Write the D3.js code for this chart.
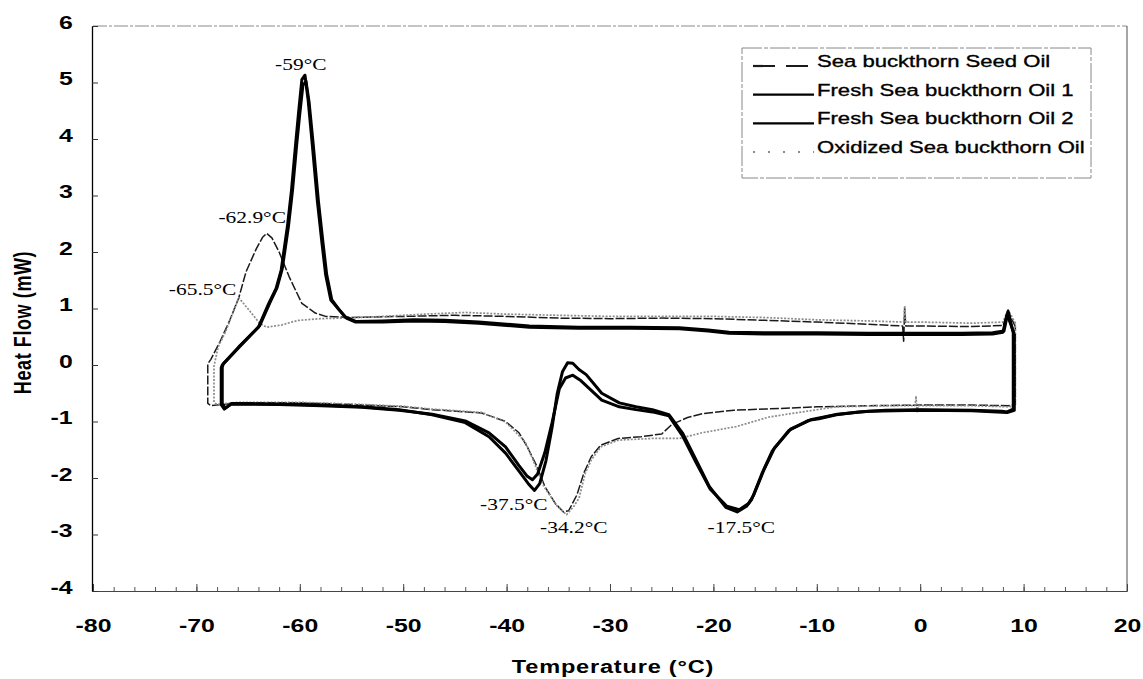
<!DOCTYPE html>
<html>
<head>
<meta charset="utf-8">
<script src="https://cdn.jsdelivr.net/npm/d3@7"></script>
<style>
  html, body { margin: 0; padding: 0; background: #fff; }
  svg { display: block; }
</style>
</head>
<body>
<svg id="chart" width="1143" height="679"></svg>
<script>
// ---------------- DATA ----------------
const xTickValues = [-80, -70, -60, -50, -40, -30, -20, -10, 0, 10, 20];
const yTickValues = [-4, -3, -2, -1, 0, 1, 2, 3, 4, 5, 6];
const xTitle = "Temperature (\u00B0C)";
const yTitle = "Heat Flow (mW)";

const seriesNames = [
  "Sea buckthorn Seed Oil",
  "Fresh Sea buckthorn Oil 1",
  "Fresh Sea buckthorn Oil 2",
  "Oxidized Sea buckthorn Oil"
];

// [temperature °C, heat flow mW] — cooling run (right to left) then heating run (left to right)
const seedOil = [
  [9.2, 0.68], [8.5, 0.95], [8.0, 0.70], [5, 0.68], [0, 0.69], [-1.4, 0.69], [-1.5, 1.0], [-1.6, 0.42], [-1.7, 0.69],
  [-5, 0.72], [-10, 0.76], [-15, 0.79], [-20, 0.82], [-25, 0.83], [-30, 0.82], [-35, 0.83], [-40, 0.86],
  [-45, 0.88], [-50, 0.86], [-55, 0.84], [-57.5, 0.86], [-58.5, 0.92], [-59.8, 1.09], [-61.0, 1.55],
  [-62.0, 2.0], [-62.7, 2.25], [-63.2, 2.33], [-63.6, 2.26], [-64.2, 2.06], [-65.2, 1.65], [-65.9, 1.19],
  [-66.8, 0.78], [-67.7, 0.42], [-68.6, 0.10], [-68.9, 0.02], [-68.9, -0.68], [-68.6, -0.72],
  [-66, -0.67], [-60, -0.67], [-55, -0.70], [-50, -0.74], [-47.2, -0.79], [-42.4, -0.85], [-40.1, -1.0],
  [-38.8, -1.2], [-38.0, -1.45], [-37.1, -1.78], [-36.3, -2.15], [-35.3, -2.45], [-34.5, -2.6], [-34.0, -2.58],
  [-33.2, -2.3], [-32.5, -1.9], [-31.8, -1.62], [-30.9, -1.42], [-29.2, -1.3], [-27, -1.27], [-25, -1.22],
  [-24, -1.05], [-22.5, -0.93], [-21, -0.86], [-18, -0.80], [-15, -0.78], [-10, -0.74], [-5, -0.72],
  [0, -0.71], [5, -0.71], [8.5, -0.72], [9.2, -0.70], [9.2, 0.68]
];

const freshOil1 = [
  [9.0, 0.57], [8.5, 0.95], [8.1, 0.60], [7, 0.57], [4, 0.56], [0, 0.56], [-5, 0.56], [-10, 0.57], [-15, 0.57],
  [-18.5, 0.58], [-20.5, 0.62], [-23.3, 0.66], [-28, 0.67], [-33, 0.67], [-37.8, 0.69], [-42.7, 0.76],
  [-46, 0.79], [-49, 0.80], [-52, 0.78], [-54.6, 0.77], [-55.6, 0.85], [-56.3, 1.0], [-57.0, 1.15],
  [-57.5, 1.6], [-57.85, 2.15], [-58.3, 2.9], [-58.8, 3.92], [-59.2, 4.7], [-59.5, 5.13], [-59.8, 5.05],
  [-60.1, 4.5], [-60.4, 3.92], [-60.8, 3.1], [-61.2, 2.45], [-61.8, 1.68], [-62.3, 1.35], [-63.0, 1.09],
  [-64.0, 0.67], [-65.9, 0.32], [-67.5, 0.0], [-67.6, -0.05], [-67.6, -0.70], [-67.3, -0.78],
  [-66.6, -0.68], [-62, -0.69], [-57.9, -0.71], [-54, -0.74], [-50.4, -0.79], [-47.2, -0.88], [-44.0, -1.02],
  [-41.7, -1.27], [-40.1, -1.56], [-38.8, -1.88], [-37.9, -2.1], [-37.3, -2.22], [-36.8, -2.1], [-36.2, -1.7],
  [-35.6, -1.1], [-35.1, -0.5], [-34.6, -0.12], [-34.1, 0.04], [-33.6, 0.03], [-33.0, -0.08], [-32.3, -0.17],
  [-30.8, -0.5], [-29.1, -0.67], [-27.5, -0.74], [-25.9, -0.79], [-24.3, -0.88], [-23.0, -1.2], [-21.7, -1.67],
  [-20.4, -2.15], [-18.8, -2.52], [-17.7, -2.6], [-16.8, -2.5], [-16.3, -2.38], [-15.3, -1.92], [-14.3, -1.52],
  [-12.7, -1.16], [-10.8, -0.98], [-9.8, -0.95], [-8.1, -0.88], [-6, -0.83], [-3.3, -0.80], [0, -0.79],
  [5, -0.80], [7.9, -0.82], [8.4, -0.83], [9.0, -0.78], [9.0, 0.57]
];

const freshOil2 = [
  [9.1, 0.55], [8.4, 0.9], [8.0, 0.58], [7, 0.55], [4, 0.54], [0, 0.54], [-5, 0.54], [-10, 0.55], [-15, 0.55],
  [-18.5, 0.56], [-20.5, 0.60], [-23.3, 0.64], [-28, 0.65], [-33, 0.65], [-37.8, 0.67], [-42.7, 0.74],
  [-46, 0.77], [-49, 0.78], [-52, 0.76], [-54.6, 0.76], [-55.5, 0.83], [-56.2, 0.98], [-56.9, 1.15],
  [-57.4, 1.6], [-57.75, 2.15], [-58.2, 2.9], [-58.7, 3.9], [-59.1, 4.65], [-59.4, 5.02], [-59.7, 4.95],
  [-60.0, 4.45], [-60.3, 3.9], [-60.7, 3.1], [-61.1, 2.45], [-61.7, 1.7], [-62.2, 1.37], [-62.9, 1.1],
  [-63.9, 0.69], [-65.8, 0.33], [-67.4, 0.02], [-67.5, -0.04], [-67.5, -0.69], [-67.2, -0.76],
  [-66.6, -0.69], [-62, -0.70], [-57.9, -0.72], [-54, -0.75], [-50.4, -0.80], [-47.2, -0.87], [-44.0, -0.99],
  [-41.7, -1.2], [-40.1, -1.45], [-38.8, -1.78], [-38.0, -1.97], [-37.5, -2.03], [-37.0, -1.93], [-36.3, -1.55],
  [-35.6, -1.02], [-34.9, -0.42], [-34.3, -0.23], [-33.6, -0.18], [-32.8, -0.28], [-30.8, -0.62], [-29.1, -0.74],
  [-27.5, -0.79], [-25.9, -0.83], [-24.3, -0.90], [-23.0, -1.25], [-21.7, -1.72], [-20.3, -2.2], [-18.7, -2.5],
  [-17.5, -2.56], [-16.6, -2.45], [-16.1, -2.3], [-15.1, -1.85], [-14.1, -1.47], [-12.5, -1.13], [-10.6, -0.97],
  [-8, -0.87], [-5, -0.82], [0, -0.80], [5, -0.81], [8.4, -0.84], [9.1, -0.80], [9.1, 0.55]
];

const oxidizedOil = [
  [9.2, 0.74], [8.5, 0.98], [8.0, 0.76], [5, 0.74], [0, 0.76], [-1.4, 0.76], [-1.5, 1.05], [-1.6, 0.76],
  [-5, 0.78], [-10, 0.80], [-15, 0.84], [-20, 0.86], [-25, 0.86], [-30, 0.86], [-35, 0.88], [-40, 0.90],
  [-44, 0.93], [-48, 0.90], [-52, 0.86], [-56, 0.83], [-58, 0.82], [-60.1, 0.79], [-60.8, 0.76], [-61.7, 0.71],
  [-63.2, 0.67], [-63.9, 0.74], [-64.9, 0.97], [-65.9, 1.19], [-66.3, 1.0], [-67.2, 0.58], [-67.9, 0.32],
  [-68.2, 0.06], [-68.3, -0.02], [-68.3, -0.66], [-68.0, -0.70],
  [-66, -0.66], [-60, -0.66], [-55, -0.69], [-50, -0.73], [-47.2, -0.78], [-42.4, -0.84], [-40.1, -1.01],
  [-38.2, -1.36], [-37.4, -1.7], [-36.4, -2.15], [-35.1, -2.5], [-34.2, -2.65], [-33.5, -2.5], [-33.0, -2.36],
  [-32.4, -1.92], [-31.8, -1.68], [-30.9, -1.45], [-29.2, -1.33], [-25.9, -1.30], [-23.3, -1.30], [-21.1, -1.2],
  [-17.8, -1.09], [-14.6, -0.92], [-11.4, -0.83], [-8.1, -0.74], [-3, -0.72], [-0.5, -0.72], [-0.4, -0.55],
  [-0.3, -0.85], [-0.2, -0.72], [5, -0.72], [8.5, -0.74], [9.2, -0.72], [9.2, 0.74]
];

// peak annotations: text, temperature of label centre, heat flow at label baseline
const annText = ["-59\u00B0C", "-62.9\u00B0C", "-65.5\u00B0C", "-37.5\u00B0C", "-34.2\u00B0C", "-17.5\u00B0C"];
const annT    = [-59.9, -64.6, -69.4, -39.3, -33.5, -17.3];
const annHF   = [5.22, 2.51, 1.24, -2.57, -2.97, -2.97];

// ---------------- CHART ----------------
const svg = d3.select("#chart");
const W = 1143, H = 679;
const plotLeft = 93, plotRight = 1127, plotTop = 26, plotBottom = 591;

const x = d3.scaleLinear().domain([-80, 20]).range([plotLeft, plotRight]);
const y = d3.scaleLinear().domain([-4, 6]).range([plotBottom, plotTop]);

const sansFont = "'Liberation Sans', Arial, Helvetica, sans-serif";
const serifFont = "'Liberation Serif', 'Times New Roman', serif";

svg.append("rect").attr("width", W).attr("height", H).attr("fill", "#fff");

// frame: top and right borders (faint)
svg.append("line").attr("x1", plotLeft).attr("x2", plotRight).attr("y1", plotTop).attr("y2", plotTop)
  .attr("stroke", "#8a8a8a").attr("stroke-width", 1).attr("stroke-dasharray", "14,2,3,2");
svg.append("line").attr("x1", plotRight).attr("x2", plotRight).attr("y1", plotTop).attr("y2", plotBottom)
  .attr("stroke", "#6a6a6a").attr("stroke-width", 1.2);

// x axis minor ticks
svg.append("g").attr("transform", `translate(0,${plotBottom})`)
  .call(d3.axisBottom(x).tickValues(d3.range(-80, 21, 2)).tickSize(-4).tickSizeOuter(0).tickFormat(""))
  .call(g => g.select(".domain").attr("stroke", "#444"))
  .call(g => g.selectAll(".tick line").attr("stroke", "#555"));

// x axis major ticks + labels
const xAxisG = svg.append("g").attr("transform", `translate(0,${plotBottom})`)
  .call(d3.axisBottom(x).tickValues(xTickValues).tickSize(-7).tickSizeOuter(0)
    .tickPadding(28).tickFormat(d => String(d)));
xAxisG.select(".domain").attr("stroke", "#444");
xAxisG.selectAll(".tick line").attr("stroke", "#444");
xAxisG.selectAll(".tick text")
  .attr("font-family", sansFont).attr("font-size", 18).attr("font-weight", "bold")
  .attr("fill", "#000").attr("transform", "scale(1.38,1)");

// y axis
const yAxisG = svg.append("g").attr("transform", `translate(${plotLeft - 1},0)`)
  .call(d3.axisLeft(y).tickValues(yTickValues).tickSize(-6).tickSizeOuter(0)
    .tickFormat(d => String(d)));
yAxisG.select(".domain").attr("stroke", "#000").attr("stroke-width", 1.3);
yAxisG.selectAll(".tick line").attr("stroke", "#333");
yAxisG.selectAll(".tick text")
  .attr("font-family", sansFont).attr("font-size", 18).attr("font-weight", "bold")
  .attr("fill", "#000").attr("x", -14).attr("y", -3.5)
  .attr("transform", "scale(1.38,1)");

// axis titles
svg.append("text")
  .attr("transform", `translate(${(plotLeft + plotRight) / 2 + 3},673) scale(1.31,1)`)
  .attr("text-anchor", "middle")
  .attr("font-family", sansFont).attr("font-size", 18).attr("font-weight", "bold")
  .attr("letter-spacing", 0.6)
  .text(xTitle);

svg.append("text")
  .attr("transform", `translate(31,${(plotTop + plotBottom) / 2 + 14}) scale(1.35,1) rotate(-90)`)
  .attr("text-anchor", "middle")
  .attr("font-family", sansFont).attr("font-size", 18).attr("font-weight", "bold")
  .attr("letter-spacing", 0.6)
  .text(yTitle);

// curves
const line = d3.line().x(d => x(d[0])).y(d => y(d[1])).curve(d3.curveLinear);

const styles = [
  { data: seedOil,     stroke: "#1a1a1a", width: 1.5, dash: "9,2" },
  { data: oxidizedOil, stroke: "#8c8c8c", width: 1.7, dash: "2,1.5" },
  { data: freshOil2,   stroke: "#000",    width: 3, dash: null },
  { data: freshOil1,   stroke: "#000",    width: 3, dash: null }
];
const plot = svg.append("g");
styles.forEach(s => {
  plot.append("path").datum(s.data)
    .attr("d", line)
    .attr("fill", "none")
    .attr("stroke", s.stroke)
    .attr("stroke-width", s.width)
    .attr("stroke-linejoin", "round")
    .attr("stroke-dasharray", s.dash);
});

// annotations
annText.forEach((t, i) => {
  svg.append("text")
    .attr("transform", `translate(${x(annT[i])},${y(annHF[i])}) scale(1.3,1)`)
    .attr("text-anchor", "middle")
    .attr("font-family", serifFont).attr("font-size", 16.5)
    .attr("fill", "#000")
    .text(t);
});

// legend
const lg = svg.append("g");
lg.append("rect").attr("x", 742).attr("y", 48).attr("width", 349).attr("height", 130)
  .attr("fill", "#fff").attr("stroke", "#888").attr("stroke-width", 1)
  .attr("stroke-dasharray", "20,2,4,2");
const legendStyles = [
  { stroke: "#1a1a1a", width: 2.2, dash: "22,11" },
  { stroke: "#000", width: 2.2, dash: null },
  { stroke: "#000", width: 2.2, dash: null },
  { stroke: "#8c8c8c", width: 2, dash: "2,13" }
];
seriesNames.forEach((name, i) => {
  const by = 67 + i * 28.7;
  lg.append("line").attr("x1", 753).attr("x2", 814).attr("y1", by - 1).attr("y2", by - 1)
    .attr("stroke", legendStyles[i].stroke).attr("stroke-width", legendStyles[i].width)
    .attr("stroke-dasharray", legendStyles[i].dash);
  lg.append("text")
    .attr("transform", `translate(817,${by}) scale(1.3,1)`)
    .attr("font-family", sansFont).attr("font-size", 17)
    .attr("fill", "#000").attr("stroke", "#000").attr("stroke-width", 0.35)
    .text(name);
});
</script>
</body>
</html>
